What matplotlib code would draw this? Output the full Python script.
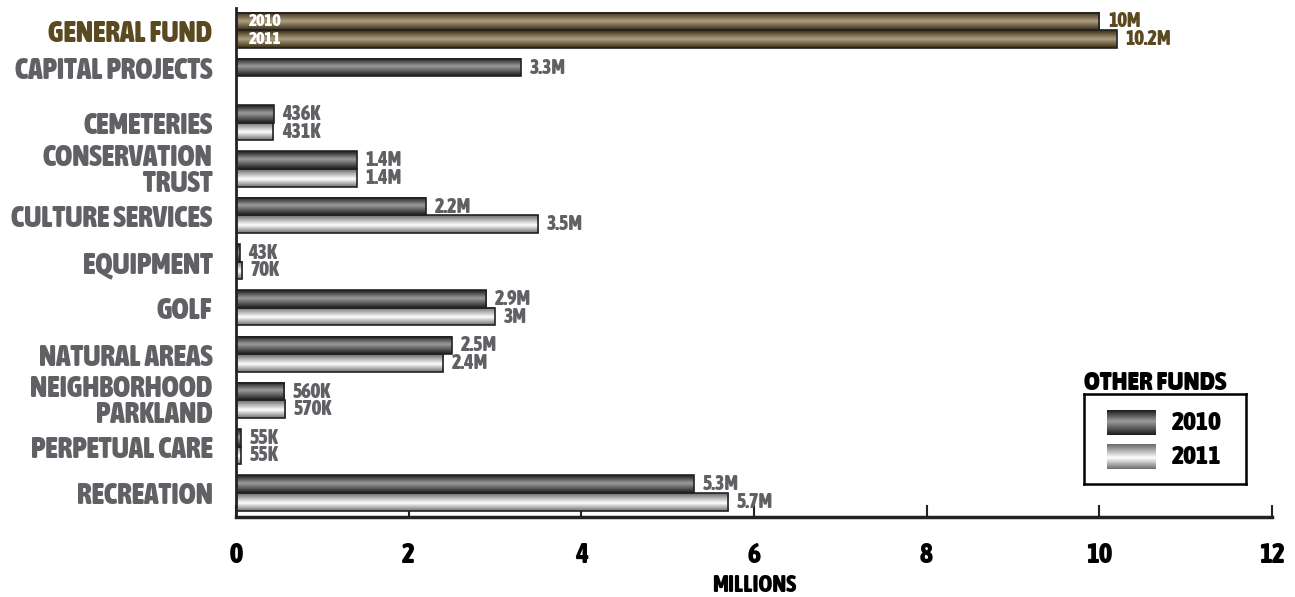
from matplotlib import pyplot as plt
from matplotlib import font_manager
from matplotlib.font_manager import FontProperties
from matplotlib.colors import LinearSegmentedColormap
import numpy as np


funds = ['GENERAL FUND', 'CAPITAL PROJECTS', 'CEMETERIES', 'CONSERVATION\nTRUST',
         'CULTURE SERVICES', 'EQUIPMENT', 'GOLF', 'NATURAL AREAS',
         'NEIGHBORHOOD\nPARKLAND', 'PERPETUAL CARE', 'RECREATION']
v2010 = [10.0, 3.3, 0.436, 1.4, 2.2, 0.043, 2.9, 2.5, 0.56, 0.055, 5.3]
v2011 = [10.2, 0.0, 0.431, 1.4, 3.5, 0.07, 3.0, 2.4, 0.57, 0.055, 5.7]
lab2010 = ['10M', '3.3M', '436K', '1.4M', '2.2M', '43K', '2.9M', '2.5M', '560K', '55K', '5.3M']
lab2011 = ['10.2M', '', '431K', '1.4M', '3.5M', '70K', '3M', '2.4M', '570K', '55K', '5.7M']
years = ['2010', '2011']
xticks = [0, 2, 4, 6, 8, 10, 12]


def pick_font():
    # look for a bold condensed face, fall back to DejaVu bold
    fl = font_manager.fontManager.ttflist
    def is_bold(f):
        w = f.weight
        if isinstance(w, str):
            return w in ('bold', 'semibold', 'demibold', 'heavy', 'black', 'extra bold')
        return w >= 600
    def is_cond(f):
        s = f.stretch
        if isinstance(s, str):
            return 'condensed' in s or 'narrow' in s
        return s < 500
    for f in fl:
        if ('Condensed' in f.name or 'Narrow' in f.name) and is_bold(f):
            return f.fname
    for f in fl:
        if is_cond(f) and is_bold(f):
            return f.fname
    return None


fname = pick_font()


def fp(size):
    if fname:
        return FontProperties(fname=fname, size=size)
    return FontProperties(family='DejaVu Sans', weight='bold', size=size, stretch='condensed')


gray_txt = '#616165'
brown_txt = '#5b4a20'

cm_dark = LinearSegmentedColormap.from_list('d', [(0, '#1c1c1c'), (0.45, '#9c9c9c'), (1, '#1c1c1c')])
cm_light = LinearSegmentedColormap.from_list('l', [(0, '#6a6a6a'), (0.55, '#ffffff'), (1, '#707070')])
cm_gold = LinearSegmentedColormap.from_list('g', [(0, '#382c14'), (0.5, '#ae9f80'), (1, '#382c14')])
grad = np.linspace(0, 1, 64).reshape(-1, 1)

W, H = 1295, 597
fig = plt.figure(figsize=(W / 100, H / 100), dpi=100)
ax = fig.add_axes([236 / W, 1 - 517 / H, (1272 - 236) / W, (517 - 8) / H])

y = np.arange(len(funds))
bh = 0.38
b1 = ax.barh(y - bh / 2, v2010, height=bh, facecolor='none', edgecolor='#222222', linewidth=1.2, zorder=3)
b2 = ax.barh(y + bh / 2, v2011, height=bh, facecolor='none', edgecolor='#222222', linewidth=1.2, zorder=3)


def fill(bar, cmap):
    if bar.get_width() <= 0:
        bar.set_visible(False)
        return
    x0 = bar.get_x()
    x1 = x0 + bar.get_width()
    yt = bar.get_y()
    yb = yt + bar.get_height()
    ax.imshow(grad, cmap=cmap, aspect='auto', extent=(x0, x1, yb, yt),
              origin='upper', zorder=2, interpolation='bilinear')


for i, (p1, p2) in enumerate(zip(b1, b2)):
    if i == 0:
        fill(p1, cm_gold)
        fill(p2, cm_gold)
    else:
        fill(p1, cm_dark)
        fill(p2, cm_light)

# value labels
for i in range(len(funds)):
    c = brown_txt if i == 0 else gray_txt
    ax.text(v2010[i] + 0.1, y[i] - bh / 2, lab2010[i], ha='left', va='center',
            color=c, fontproperties=fp(14.5), zorder=4)
    if lab2011[i]:
        ax.text(v2011[i] + 0.1, y[i] + bh / 2, lab2011[i], ha='left', va='center',
                color=c, fontproperties=fp(14.5), zorder=4)

# years inside the general fund bars
ax.text(0.15, y[0] - bh / 2, years[0], ha='left', va='center', color='white', fontproperties=fp(12.5), zorder=4)
ax.text(0.15, y[0] + bh / 2, years[1], ha='left', va='center', color='white', fontproperties=fp(12.5), zorder=4)

ax.set_xlim(0, 12)
ax.set_ylim(10.52, -0.48)

ytk = [c - bh / 2 if v2011[i] == 0 else c for i, c in enumerate(y)]
ax.set_yticks(ytk)
ax.set_yticklabels(funds, linespacing=0.85)
for i, t in enumerate(ax.get_yticklabels()):
    t.set_fontproperties(fp(21))
    t.set_color(brown_txt if i == 0 else gray_txt)
ax.tick_params(axis='y', length=0, pad=17)

ax.set_xticks(xticks)
ax.set_xticklabels([str(t) for t in xticks])
for t in ax.get_xticklabels():
    t.set_fontproperties(fp(20))
    t.set_color('black')
ax.tick_params(axis='x', direction='in', length=9, width=1.5, pad=18, color='#222222')
ax.set_xlabel('MILLIONS', fontproperties=fp(17), color='black')
ax.xaxis.set_label_coords(0.5, -(597 - 517) / (517 - 8))
ax.xaxis.label.set_verticalalignment('bottom')

for s in ['top', 'right']:
    ax.spines[s].set_visible(False)
ax.spines['left'].set_linewidth(2)
ax.spines['bottom'].set_linewidth(2.5)
ax.spines['left'].set_color('#222222')
ax.spines['bottom'].set_color('#222222')

# legend (built as a small boxed axes)
lg = fig.add_axes([1084 / W, 1 - 484 / H, (1246 - 1084) / W, (484 - 394) / H])
lg.set_xticks([])
lg.set_yticks([])
for s in lg.spines.values():
    s.set_linewidth(1.8)
    s.set_color('black')
lg.imshow(grad, cmap=cm_dark, aspect='auto', extent=(1107, 1156, 435, 410), origin='upper')
lg.imshow(grad, cmap=cm_light, aspect='auto', extent=(1107, 1156, 469, 444), origin='upper')
lg.set_xlim(1084, 1246)
lg.set_ylim(484, 394)
lg.text(1172, 423, years[0], ha='left', va='center', fontproperties=fp(19), color='black')
lg.text(1172, 457, years[1], ha='left', va='center', fontproperties=fp(19), color='black')
fig.text(1084 / W, 1 - 383 / H, 'OTHER FUNDS', ha='left', va='center', fontproperties=fp(19.5), color='black')

plt.savefig('out.png', dpi=100)
